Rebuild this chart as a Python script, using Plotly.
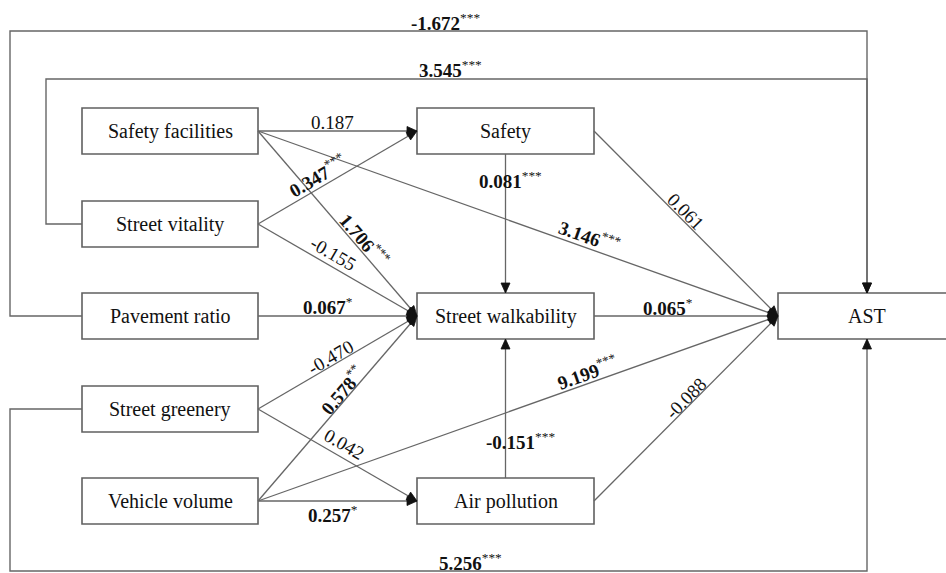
import math
import plotly.graph_objects as go

# ---------------- data ----------------
NODES = ["Safety facilities", "Street vitality", "Pavement ratio", "Street greenery",
         "Vehicle volume", "Safety", "Street walkability", "Air pollution", "AST"]

EDGE_FROM = ["Safety facilities", "Safety facilities", "Safety facilities",
             "Street vitality", "Street vitality", "Pavement ratio",
             "Street greenery", "Vehicle volume", "Street greenery",
             "Vehicle volume", "Vehicle volume", "Safety", "Air pollution",
             "Safety", "Street walkability", "Air pollution"]
EDGE_TO = ["Safety", "Street walkability", "AST",
           "Safety", "Street walkability", "Street walkability",
           "Street walkability", "Street walkability", "Air pollution",
           "Air pollution", "AST", "Street walkability", "Street walkability",
           "AST", "AST", "AST"]
EDGE_COEF = [0.187, 1.706, 3.146, 0.347, -0.155, 0.067, -0.470, 0.578, 0.042,
             0.257, 9.199, 0.081, -0.151, 0.061, 0.065, -0.088]
EDGE_SIG = ["", "***", "***", "***", "", "*", "", "**", "", "*", "***", "***",
            "***", "", "*", ""]

OUTER_FROM = ["Pavement ratio", "Street vitality", "Street greenery"]
OUTER_TO = ["AST", "AST", "AST"]
OUTER_COEF = [-1.672, 3.545, 5.256]
OUTER_SIG = ["***", "***", "***"]

# ---------------- layout / style ----------------
W, H = 946, 573
FONT = "Liberation Serif, Times New Roman, serif"
LINE_COLOR = "#666666"
BOX_COLOR = "#606060"
TEXT_COLOR = "#111111"

COL_X = {"left": 170, "mid": 505.5, "right": 867}
COL_W = {"left": 176, "mid": 177, "right": 178}
ROW_Y = [131, 224, 316, 409, 501]
BOX_H = 46
NODE_POS = {
    "Safety facilities": ("left", 0), "Street vitality": ("left", 1),
    "Pavement ratio": ("left", 2), "Street greenery": ("left", 3),
    "Vehicle volume": ("left", 4), "Safety": ("mid", 0),
    "Street walkability": ("mid", 2), "Air pollution": ("mid", 4),
    "AST": ("right", 2),
}
# label placement along each edge: (fraction along edge, perpendicular offset in px)
EDGE_LABEL_POS = [(0.47, 9), (0.625, 10), (0.63, 12), (0.415, 12), (0.433, 12.5),
                  (0.44, 10), (0.48, 8.5), (0.569, 8.7), (0.505, 13), (0.47, -13),
                  (0.64, 11), (0.19, 5), (0.266, -15), (0.467, 7.8), (0.40, 9),
                  (0.527, 7.8)]
# outer connectors: rail x, horizontal run y
OUTER_RAIL = [(10, 31), (46, 79), (10, 571)]
OUTER_LABEL = [(445, 9), (450, 10), (470, 9)]  # label x, offset above the run
HEAD_LEN, HEAD_HALF = 10, 4.5


def box(name):
    col, row = NODE_POS[name]
    return COL_X[col], ROW_Y[row], COL_W[col], BOX_H


def fmt(c, sig):
    s = f"{c:.3f}"
    if sig:
        return f"<b>{s}</b><sup>{sig}</sup>"
    return s


shapes = []
annotations = []


def arrow_head(x, y, ux, uy):
    bx, by = x - HEAD_LEN * ux, y - HEAD_LEN * uy
    nx, ny = -uy, ux
    path = (f"M {x},{y} L {bx + HEAD_HALF * nx},{by + HEAD_HALF * ny} "
            f"L {bx - HEAD_HALF * nx},{by - HEAD_HALF * ny} Z")
    shapes.append(dict(type="path", path=path, fillcolor="#111111",
                       line=dict(color="#111111", width=0.8)))


# boxes
for n in NODES:
    cx, cy, w, h = box(n)
    shapes.append(dict(type="rect", x0=cx - w / 2, x1=cx + w / 2, y0=cy - h / 2,
                       y1=cy + h / 2, line=dict(color=BOX_COLOR, width=1.6),
                       fillcolor="white", layer="below"))
    annotations.append(dict(x=cx, y=cy, text=n, showarrow=False, xref="x", yref="y",
                            font=dict(family=FONT, size=20, color=TEXT_COLOR),
                            xanchor="center", yanchor="middle"))

# edges
for i in range(len(EDGE_FROM)):
    sx, sy, sw, sh = box(EDGE_FROM[i])
    tx, ty, tw, th = box(EDGE_TO[i])
    vertical = abs(sx - tx) < 1
    if vertical:
        if ty > sy:
            p0 = (sx, sy + sh / 2); p1 = (tx, ty - th / 2)
        else:
            p0 = (sx, sy - sh / 2); p1 = (tx, ty + th / 2)
    else:
        p0 = (sx + sw / 2, sy); p1 = (tx - tw / 2, ty)
    dx, dy = p1[0] - p0[0], p1[1] - p0[1]
    L = math.hypot(dx, dy)
    ux, uy = dx / L, dy / L
    angle = 0.0 if vertical else math.degrees(math.atan2(dy, dx))
    shapes.append(dict(type="path", path=f"M {p0[0]},{p0[1]} L {p1[0]},{p1[1]}",
                       line=dict(color=LINE_COLOR, width=1.3), layer="below"))
    arrow_head(p1[0], p1[1], ux, uy)
    t, off = EDGE_LABEL_POS[i]
    nx, ny = uy, -ux
    lx = p0[0] + t * dx + off * nx
    ly = p0[1] + t * dy + off * ny
    ann = dict(x=lx, y=ly, text=fmt(EDGE_COEF[i], EDGE_SIG[i]),
               showarrow=False, xref="x", yref="y",
               font=dict(family=FONT, size=19, color=TEXT_COLOR),
               xanchor="center", yanchor="middle")
    if abs(angle) > 0.01:
        ann["textangle"] = angle
    annotations.append(ann)

# outer connectors
for i in range(len(OUTER_FROM)):
    sx, sy, sw, sh = box(OUTER_FROM[i])
    tx, ty, tw, th = box(OUTER_TO[i])
    rx, ry = OUTER_RAIL[i]
    x_start = sx - sw / 2
    end_y = ty - th / 2 if ry < ty else ty + th / 2
    path = f"M {x_start},{sy} L {rx},{sy} L {rx},{ry} L {tx},{ry} L {tx},{end_y}"
    shapes.append(dict(type="path", path=path,
                       line=dict(color=LINE_COLOR, width=1.4), layer="below"))
    arrow_head(tx, end_y, 0, 1 if end_y > ry else -1)
    lx, off = OUTER_LABEL[i]
    annotations.append(dict(x=lx, y=ry - off, text=fmt(OUTER_COEF[i], OUTER_SIG[i]),
                            showarrow=False, xref="x", yref="y",
                            font=dict(family=FONT, size=19, color=TEXT_COLOR),
                            xanchor="center", yanchor="middle"))

fig = go.Figure()
fig.update_layout(
    width=W, height=H, autosize=False,
    margin=dict(l=0, r=0, t=0, b=0, pad=0),
    paper_bgcolor="white", plot_bgcolor="white", showlegend=False,
    xaxis=dict(range=[0, W], visible=False, fixedrange=True),
    yaxis=dict(range=[H, 0], visible=False, fixedrange=True),
    shapes=shapes, annotations=annotations,
)
fig.write_html("out.html", config={"displayModeBar": False},
               post_script="document.body.style.margin='0';document.body.style.overflow='hidden';")
